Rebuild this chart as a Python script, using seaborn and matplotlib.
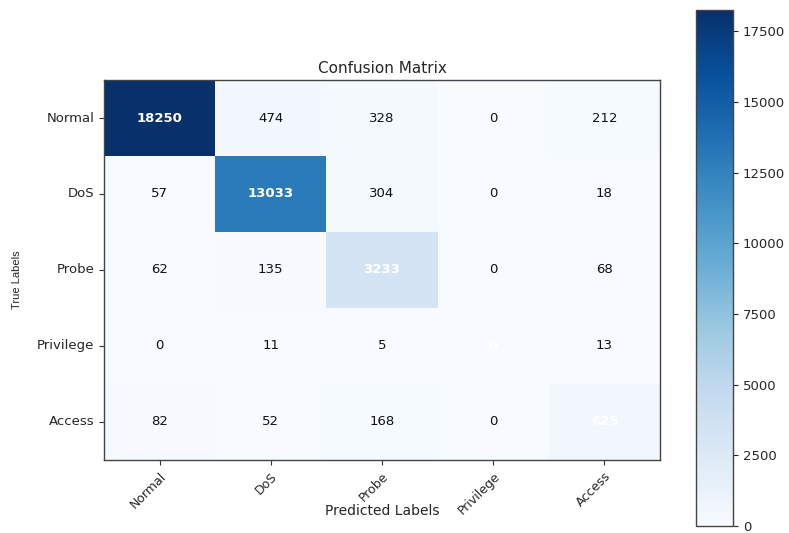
import numpy as np
import pandas as pd
import matplotlib
matplotlib.use("Agg")
import matplotlib.pyplot as plt
import seaborn as sns

classes = ["Normal", "DoS", "Probe", "Privilege", "Access"]
row_normal = [18250, 474, 328, 0, 212]
row_dos = [57, 13033, 304, 0, 18]
row_probe = [62, 135, 3233, 0, 68]
row_privilege = [0, 11, 5, 0, 13]
row_access = [82, 52, 168, 0, 625]
cbar_ticks = [0, 2500, 5000, 7500, 10000, 12500, 15000, 17500]

cm = pd.DataFrame([row_normal, row_dos, row_probe, row_privilege, row_access],
                  index=classes, columns=classes)

sns.set_style("white")
plt.rcParams["font.family"] = ["DejaVu Sans"]

fig = plt.figure(figsize=(7.89, 5.33), dpi=100)
ax = fig.add_axes([0.1318, 0.137, 0.7047, 0.7129])
cax = fig.add_axes([0.882, 0.0131, 0.047, 0.968])

sns.heatmap(cm, ax=ax, cbar_ax=cax, cmap="Blues", vmin=0, vmax=cm.values.max(),
            annot=True, fmt="d", annot_kws={"fontsize": 9.5, "color": "black"},
            cbar_kws={"ticks": cbar_ticks})

# diagonal counts in white bold, the rest in black
n = len(classes)
for k, txt in enumerate(ax.texts):
    i, j = divmod(k, n)
    if i == j:
        txt.set_color("white")
        txt.set_fontweight("bold")
    else:
        txt.set_color("#111111")

for s in ax.spines.values():
    s.set_visible(True)
    s.set_color("#444444")
    s.set_linewidth(1.0)

ax.set_title("Confusion Matrix", fontsize=11, pad=5)
ax.set_xlabel("Predicted Labels", fontsize=10)
ax.xaxis.set_label_coords(0.5, -0.115)
ax.set_ylabel("True Labels", fontsize=8,
              family=["Liberation Sans Narrow", "Liberation Sans", "DejaVu Sans"])
ax.yaxis.set_label_coords(-0.148, 0.474)
ax.set_xticklabels(classes, rotation=45, ha="right", rotation_mode="anchor", fontsize=9)
ax.set_yticklabels(classes, rotation=0, fontsize=9.5)
ax.tick_params(axis="both", length=3.5, width=0.8, color="#333333", bottom=True, left=True)

cax.tick_params(labelsize=9.5, length=3.5, width=0.8, right=True)
cbar = ax.collections[0].colorbar
cbar.outline.set_visible(True)
cbar.outline.set_edgecolor("#444444")
cbar.outline.set_linewidth(1.0)

fig.savefig("out.png", dpi=100)
